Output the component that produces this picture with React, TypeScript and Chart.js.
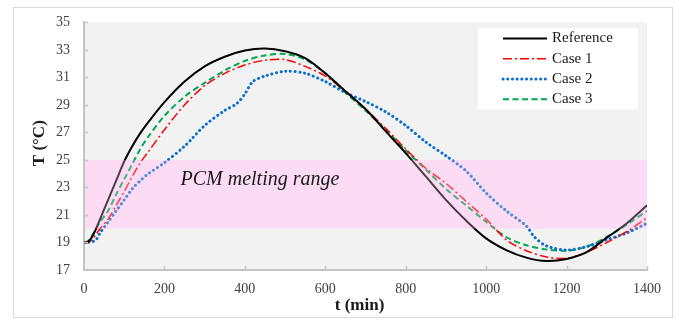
import React, { useEffect, useRef } from "react";
import { Chart, registerables } from "chart.js";
Chart.register(...registerables);

const times = [0, 10, 20, 30, 40, 60, 80, 100, 120, 140, 160, 200, 250, 300, 350, 400, 450, 500, 550, 600, 650, 700, 750, 800, 850, 900, 950, 1000, 1050, 1100, 1150, 1200, 1250, 1300, 1350, 1400];
const reference = [19.0, 19.05, 19.4, 20.0, 20.7, 22.1, 23.5, 24.9, 26.0, 26.95, 27.75, 29.2, 30.7, 31.8, 32.5, 32.95, 33.1, 32.9, 32.4, 31.3, 30.0, 28.7, 27.1, 25.5, 23.8, 22.1, 20.6, 19.3, 18.45, 17.9, 17.65, 17.8, 18.3, 19.35, 20.4, 21.7];
const case1 = [19.0, 19.0, 19.2, 19.6, 20.0, 20.7, 21.7, 22.7, 23.8, 24.8, 25.6, 27.2, 29.0, 30.4, 31.3, 31.9, 32.25, 32.3, 31.8, 31.1, 30.0, 28.7, 27.3, 25.8, 24.4, 23.3, 22.0, 20.7, 19.2, 18.4, 17.95, 17.85, 18.3, 19.0, 19.8, 20.8];
const case3 = [19.0, 19.1, 19.5, 20.0, 20.5, 21.3, 22.5, 23.6, 24.7, 25.8, 26.7, 28.2, 29.6, 30.6, 31.5, 32.2, 32.6, 32.7, 32.3, 31.3, 29.9, 28.6, 27.2, 25.7, 24.3, 22.9, 21.7, 20.5, 19.4, 18.8, 18.5, 18.4, 18.7, 19.4, 20.3, 21.3];
const case2Times = [0, 20, 30, 40, 60, 80, 100, 120, 140, 160, 200, 250, 300, 350, 380, 400, 420, 450, 500, 550, 600, 650, 700, 750, 800, 850, 900, 950, 1000, 1050, 1100, 1120, 1150, 1200, 1250, 1300, 1350, 1400];
const case2 = [19.0, 19.05, 19.2, 19.7, 20.5, 21.3, 22.1, 22.9, 23.5, 24.0, 24.8, 26.0, 27.5, 28.6, 29.1, 29.8, 30.7, 31.1, 31.45, 31.3, 30.7, 29.9, 29.25, 28.5, 27.5, 26.3, 25.3, 24.2, 22.6, 21.3, 20.2, 19.4, 18.75, 18.45, 18.7, 19.2, 19.7, 20.4];

const seriesNames = ["Reference", "Case 1", "Case 2", "Case 3"];
const xTicks = [0, 200, 400, 600, 800, 1000, 1200, 1400];
const yTicks = [17, 19, 21, 23, 25, 27, 29, 31, 33, 35];
const bandRange = [20, 25];
const bandLabel = "PCM melting range";
const bandLabelAt = [240, 23.15];
const xTitle = "t (min)";
const yTitle = "T (°C)";

const SERIF = "'Liberation Serif', 'Times New Roman', serif";

const styles = [
  { color: "#000000", width: 2, dash: [] as number[], cap: "butt" },
  { color: "#ff0000", width: 1.5, dash: [9, 3, 2, 3], cap: "butt" },
  { color: "#0a6fd0", width: 3, dash: [0.1, 4.6], cap: "round" },
  { color: "#00a651", width: 2, dash: [6, 3.5], cap: "butt" },
];

const decorPlugin = {
  id: "decor",
  beforeDraw(chart: any) {
    const { ctx, chartArea, width, height } = chart;
    ctx.save();
    ctx.fillStyle = "#ffffff";
    ctx.fillRect(0, 0, width, height);
    ctx.strokeStyle = "#d9d9d9";
    ctx.lineWidth = 1;
    ctx.strokeRect(13.5, 7.5, 659, 310);
    ctx.fillStyle = "#f2f2f2";
    ctx.fillRect(chartArea.left, chartArea.top, chartArea.right - chartArea.left, chartArea.bottom - chartArea.top);
    ctx.restore();
  },
  beforeDatasetsDraw(chart: any) {
    const { ctx, chartArea, scales } = chart;
    const y1 = scales.y.getPixelForValue(bandRange[1]);
    const y0 = scales.y.getPixelForValue(bandRange[0]);
    ctx.save();
    ctx.fillStyle = "#fce6f6";
    ctx.fillRect(chartArea.left + 1, y1, chartArea.right - chartArea.left - 1, y0 - y1);
    ctx.restore();
  },
  afterDatasetsDraw(chart: any) {
    const { ctx, chartArea, scales } = chart;
    const y1 = scales.y.getPixelForValue(bandRange[1]);
    const y0 = scales.y.getPixelForValue(bandRange[0]);
    ctx.save();
    ctx.fillStyle = "rgba(250,200,240,0.3)";
    ctx.fillRect(chartArea.left + 1, y1, chartArea.right - chartArea.left - 1, y0 - y1);

    // band label
    ctx.fillStyle = "#1a1a1a";
    ctx.font = `italic 20px ${SERIF}`;
    ctx.textAlign = "left";
    ctx.textBaseline = "alphabetic";
    ctx.fillText(bandLabel, scales.x.getPixelForValue(bandLabelAt[0]), scales.y.getPixelForValue(bandLabelAt[1]));

    // inner tick marks
    ctx.strokeStyle = "#c4c4c4";
    ctx.lineWidth = 1.5;
    ctx.beginPath();
    xTicks.forEach((t) => {
      if (t === 0) return;
      const px = Math.round(scales.x.getPixelForValue(t)) + 0.5;
      ctx.moveTo(px, chartArea.bottom);
      ctx.lineTo(px, chartArea.bottom - 4);
    });
    yTicks.forEach((v) => {
      if (v === 17) return;
      const py = Math.round(scales.y.getPixelForValue(v)) + 0.5;
      ctx.moveTo(chartArea.left, py);
      ctx.lineTo(chartArea.left + 4, py);
    });
    ctx.stroke();

    // legend
    const lw = 160, lh = 81;
    const lx = chartArea.right - 9 - lw;
    const ly = chartArea.top + 6;
    ctx.fillStyle = "#ffffff";
    ctx.fillRect(lx, ly, lw, lh);
    ctx.font = `15px ${SERIF}`;
    ctx.textBaseline = "middle";
    seriesNames.forEach((name, i) => {
      const s = styles[i];
      const cy = ly + 10 + i * 20.3;
      ctx.strokeStyle = s.color;
      ctx.lineWidth = s.width;
      ctx.setLineDash(s.dash);
      ctx.lineCap = s.cap as CanvasLineCap;
      ctx.beginPath();
      ctx.moveTo(lx + 25, cy);
      ctx.lineTo(lx + 69, cy);
      ctx.stroke();
      ctx.setLineDash([]);
      ctx.lineCap = "butt";
      ctx.fillStyle = "#1a1a1a";
      ctx.fillText(name, lx + 74, cy);
    });

    // axis titles
    ctx.fillStyle = "#1a1a1a";
    ctx.font = `bold 17px ${SERIF}`;
    ctx.textAlign = "center";
    ctx.textBaseline = "middle";
    ctx.fillText(xTitle, (chartArea.left + chartArea.right) / 2 - 6, 306);
    ctx.translate(40, (chartArea.top + chartArea.bottom) / 2 - 3);
    ctx.rotate(-Math.PI / 2);
    ctx.fillText(yTitle, 0, 0);
    ctx.restore();
  },
};

export default function App() {
  const ref = useRef<HTMLCanvasElement>(null);
  useEffect(() => {
    if (!ref.current) return;
    const mk = (ts: number[], vs: number[]) => ts.map((t, i) => ({ x: t, y: vs[i] }));
    const series = [mk(times, reference), mk(times, case1), mk(case2Times, case2), mk(times, case3)];
    const chart = new Chart(ref.current, {
      type: "line",
      data: {
        datasets: series.map((d, i) => ({
          label: seriesNames[i],
          data: d,
          borderColor: styles[i].color,
          borderWidth: styles[i].width,
          borderDash: styles[i].dash,
          borderCapStyle: styles[i].cap as any,
          pointRadius: 0,
          fill: false,
          tension: 0.3,
        })),
      },
      options: {
        animation: false,
        responsive: false,
        layout: { padding: { left: 0, right: 32, top: 19, bottom: 0 } },
        plugins: { legend: { display: false }, tooltip: { enabled: false } },
        scales: {
          x: {
            type: "linear",
            min: 0,
            max: 1400,
            afterFit: (s: any) => { s.height = 50; },
            afterBuildTicks: (s: any) => { s.ticks = xTicks.map((v) => ({ value: v })); },
            grid: { display: true, drawOnChartArea: false, drawTicks: false },
            border: { display: true, color: "#c4c4c4", width: 2 },
            ticks: {
              padding: 11,
              color: "#404040",
              font: { family: SERIF, size: 14 },
              maxRotation: 0,
              callback: (v: any) => String(v),
            },
          },
          y: {
            type: "linear",
            min: 17,
            max: 35,
            afterFit: (s: any) => { s.width = 84; },
            afterBuildTicks: (s: any) => { s.ticks = yTicks.map((v) => ({ value: v })); },
            grid: { display: true, drawOnChartArea: false, drawTicks: false },
            border: { display: true, color: "#c4c4c4", width: 2 },
            ticks: { padding: 14, color: "#404040", font: { family: SERIF, size: 14 }, callback: (v: any) => String(v) },
          },
        },
      },
      plugins: [decorPlugin],
    });
    return () => chart.destroy();
  }, []);
  return (
    <div style={{ position: "fixed", left: 0, top: 0, width: 679, height: 320 }}>
      <canvas ref={ref} width={679} height={320} style={{ width: 679, height: 320, display: "block" }} />
    </div>
  );
}
